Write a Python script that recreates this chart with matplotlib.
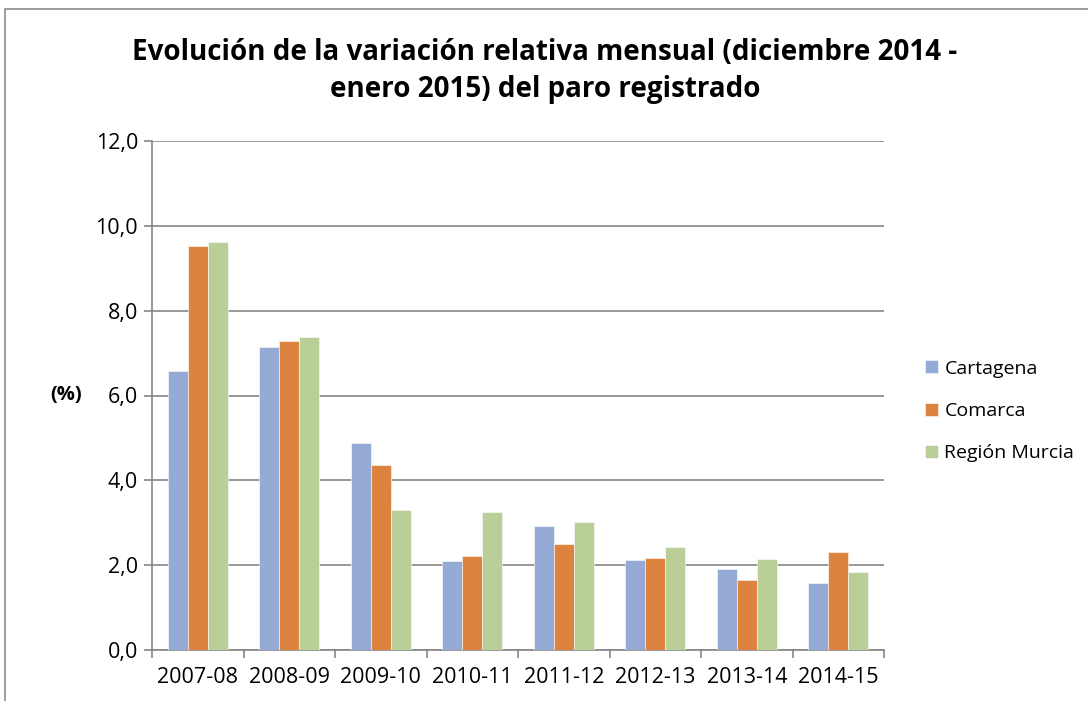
import matplotlib.pyplot as plt
import numpy as np
from matplotlib.patches import Rectangle

plt.rcParams['font.family'] = ['Open Sans', 'DejaVu Sans']

periods = ['2007-08', '2008-09', '2009-10', '2010-11', '2011-12', '2012-13', '2013-14', '2014-15']
cartagena = [6.58, 7.15, 4.87, 2.10, 2.92, 2.13, 1.90, 1.58]
comarca = [9.53, 7.29, 4.36, 2.22, 2.50, 2.16, 1.64, 2.31]
region = [9.63, 7.37, 3.30, 3.25, 3.01, 2.42, 2.15, 1.84]
series_names = ['Cartagena', 'Comarca', 'Región Murcia']
colors = ['#95ABD5', '#DC843F', '#BACE97']

fig = plt.figure(figsize=(10.88, 7.01), dpi=100)
ax = fig.add_axes([152 / 1088, 1 - 650 / 701, 732 / 1088, 509 / 701])

# frame round the whole chart
fig.patches.append(Rectangle((5 / 1088, -0.1), 1.2, 1 - 9 / 701 + 0.1, transform=fig.transFigure,
                             fill=False, edgecolor='#8C8C8C', linewidth=1.2))

x = np.arange(len(periods))
w = 0.22
for i, (vals, name, c) in enumerate(zip([cartagena, comarca, region], series_names, colors)):
    ax.bar(x + (i - 1) * w, vals, w, color=c, label=name, edgecolor='white', linewidth=0.4, zorder=3)

ax.set_xlim(-0.5, len(periods) - 0.5)
ax.set_ylim(0, 12)
ax.set_yticks(np.arange(0, 12.1, 2))
ax.set_yticklabels([f'{v:.1f}'.replace('.', ',') for v in np.arange(0, 12.1, 2)])
ax.set_xticks(x)
ax.set_xticklabels(periods)
ax.set_xticks(np.arange(-0.5, len(periods), 1), minor=True)
ax.tick_params(axis='x', which='major', length=0, labelsize=15.5, pad=12)
ax.tick_params(axis='x', which='minor', length=6, color='#868686', width=1.2)
ax.tick_params(axis='y', length=6, color='#868686', width=1.2, labelsize=15.5, pad=4)

ax.grid(axis='y', color='#868686', linewidth=1.2, zorder=0)
for s in ['top', 'right']:
    ax.spines[s].set_visible(False)
for s in ['left', 'bottom']:
    ax.spines[s].set_color('#868686')
    ax.spines[s].set_linewidth(1.2)

fig.text(545 / 1088, 1 - 71 / 701, 'Evolución de la variación relativa mensual (diciembre 2014 -\nenero 2015) del paro registrado',
         ha='center', va='center', fontsize=20, fontweight='bold', linespacing=1.37)
fig.text(66 / 1088, 1 - 395 / 701, '(%)', ha='center', va='center', fontsize=14.5, fontweight='bold')

fig.legend(loc='center left', bbox_to_anchor=(925 / 1088, 1 - 411 / 701), frameon=False, fontsize=14,
           handlelength=0.65, handleheight=0.65, labelspacing=1.26, handletextpad=0.35,
           borderaxespad=0, borderpad=0)

fig.savefig('out.png', dpi=100)
